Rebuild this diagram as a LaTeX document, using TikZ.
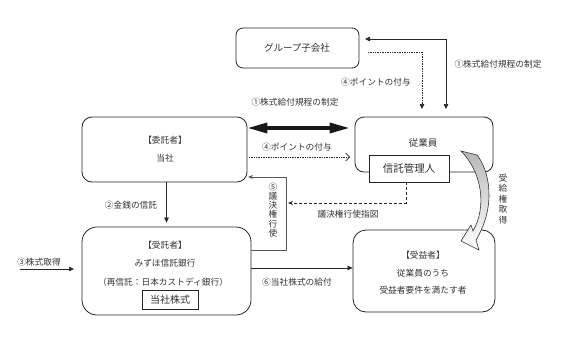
\documentclass[tikz,border=0pt]{standalone}
\usepackage{fontspec}
\setmainfont{Noto Sans CJK JP}
\usetikzlibrary{arrows.meta}
\begin{document}
\begin{tikzpicture}[x=1pt,y=-1pt,
  lbl/.style={text=black!80, font=\fontsize{8.7}{9}\selectfont, inner sep=0pt},
  boxline/.style={draw=black!85, line width=0.8pt, inner sep=0pt},
  conn/.style={draw=black!85, line width=0.7pt},
  tri/.style={-{Triangle[length=5pt,width=4.5pt]}},
  dots/.style={dash pattern=on 0.7pt off 1pt},
  dashes/.style={dash pattern=on 3pt off 2pt},
]
\useasboundingbox[fill=white] (0,0) rectangle (567,337);

% ---- boxes ----
\node[boxline, rounded corners=7pt, minimum width=123pt, minimum height=40pt] (grp) at (297.5,48) {};
\node[lbl, font=\fontsize{9.5}{10}\selectfont] (grpt) at (297,48) {グループ子会社};

\node[boxline, rounded corners=10pt, minimum width=165pt, minimum height=65pt] (itaku) at (164.5,149.5) {};
\node[lbl] (itaku1) at (165,140) {【委託者】};
\node[lbl] (itaku2) at (165,158) {当社};

\node[boxline, rounded corners=9pt, minimum width=138pt, minimum height=55pt] (emp) at (424,144.5) {};
\node[lbl, font=\fontsize{9.5}{10}\selectfont] (empt) at (423,143) {従業員};
\node[boxline, fill=white, minimum width=80pt, minimum height=27pt, font=\fontsize{10.5}{11}\selectfont, text=black!80] (kanri) at (409,168.5) {信託管理人};

\node[boxline, rounded corners=15pt, minimum width=169pt, minimum height=88pt] (jutaku) at (166.5,271) {};
\node[lbl] (jutaku1) at (165,245) {【受託者】};
\node[lbl] (jutaku2) at (165,263) {みずほ信託銀行};
\node[lbl] (jutaku3) at (163,282) {（再信託：日本カストディ銀行）};
\node[boxline, minimum width=56pt, minimum height=19pt, font=\fontsize{10}{11}\selectfont, text=black!80] (kabu) at (170,299.5) {当社株式};

\node[boxline, rounded corners=13pt, minimum width=142pt, minimum height=82pt] (jueki) at (424,271) {};
\node[lbl] (jueki1) at (423,255) {【受益者】};
\node[lbl] (jueki2) at (423,273) {従業員のうち};
\node[lbl] (jueki3) at (423,290) {受益者要件を満たす者};

% ---- helper coordinates ----
\coordinate (c1a) at (446,109);
\coordinate (c1b) at (365,39);
\coordinate (c4a) at (368,52);
\coordinate (c4b) at (422,109);
\coordinate (yth) at (0,128);
\coordinate (c4m) at (249,157);
\coordinate (c4n) at (350,157);
\coordinate (c5a) at (286,250);
\coordinate (c5b) at (286,177);
\coordinate (c5c) at (248,177);
\coordinate (cda) at (406,203);
\coordinate (cdb) at (288,203);
\coordinate (s3) at (20,269);
\coordinate (e3) at (74,269);
\coordinate (y6) at (0,268);

% ---- connectors ----
\draw[conn, {Triangle[length=5pt,width=4.5pt]}-{Triangle[length=5pt,width=4.5pt]}] (c1b) -| (c1a);
\draw[conn, dots, tri] (c4a) -| (c4b);

\draw[line width=3.5pt, black!90, {Triangle[length=20pt,width=10pt]}-{Triangle[length=20pt,width=10pt]}]
  (itaku.east |- yth) -- ([xshift=-5pt]emp.west |- yth);

\draw[conn, dots, -{Straight Barb[length=4pt,width=8pt]}] (c4m) -- (c4n);

\draw[line width=1pt, black!65, -{Stealth[length=5pt,width=4pt]}] (jutaku.east |- c5a) -- (c5a) -- (c5b) -- (c5c);

\draw[conn, dashes, -{Stealth[length=5pt,width=4pt]}] (kanri.south -| cda) -- (cda) -- (cdb);

\draw[conn, tri, shorten >=4pt] (itaku.south -| jutaku.north) -- (jutaku.north);

\draw[conn, tri] (s3) -- (e3);

\draw[conn, tri] (jutaku.east |- y6) -- (jueki.west |- y6);

% curved block arrow
\path[draw=black!80, line width=0.6pt, top color=black!28, bottom color=white]
  (461,151) -- (477,155) .. controls (489,170) and (497,205) .. (476,240)
  -- (479,250) -- (461,241) -- (471,225) -- (473,231)
  .. controls (487,207) and (482,172) .. (461,151) -- cycle;

% ---- labels ----
\node[lbl] (l1t) at (498,64) {①株式給付規程の制定};
\node[lbl] (l4t) at (376,82) {④ポイントの付与};
\node[lbl] (l1m) at (295,102) {①株式給付規程の制定};
\node[lbl] (l4m) at (297,147) {④ポイントの付与};
\node[lbl] (l2) at (131,205) {②金銭の信託};
\node[lbl, align=center, font=\fontsize{8.7}{9.2}\selectfont] (l5) at (273,210) {⑤\\議\\決\\権\\行\\使};
\node[lbl] (ld) at (348,214) {議決権行使指図};
\node[lbl] (l3) at (39,262) {③株式取得};
\node[lbl] (l6) at (297,282) {⑥当社株式の給付};
\node[lbl, align=center, font=\fontsize{8.7}{10.5}\selectfont] (lj) at (503,199) {受\\給\\権\\取\\得};
\end{tikzpicture}
\end{document}
